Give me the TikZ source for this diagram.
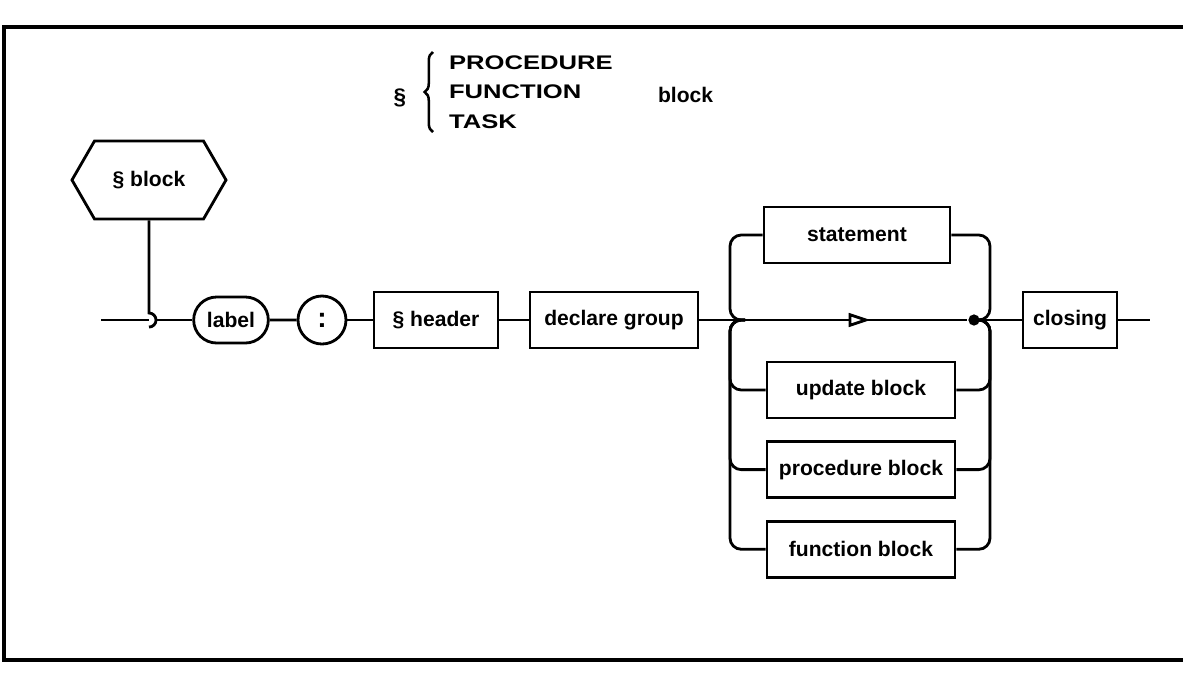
\documentclass[tikz,border=0pt]{standalone}
\usepackage{fontspec}
\setmainfont{Liberation Sans}
\newfontfamily\widefont[FakeStretch=1.3]{Liberation Sans}
\usetikzlibrary{positioning, shapes.misc, shapes.symbols, arrows.meta, decorations.markings, decorations.pathreplacing}
\tikzset{
    every node/.style={font=\fontsize{15}{18}\selectfont\bfseries},
    box/.style={draw, rectangle, minimum height=1.4cm, inner sep=2pt},
    alt/.style={box, minimum width=4.7cm},
    term/.style={draw, rounded rectangle, minimum width=2.1cm, minimum height=1.15cm},
    sym/.style={draw, circle, minimum size=1.2cm, inner sep=0pt},
    start/.style={draw, signal, signal to=west and east, signal pointer angle=120,
        minimum width=3.85cm, minimum height=1.95cm},
    junc/.style={circle, fill, minimum size=8pt, inner sep=0pt},
    rail/.style={rounded corners=8pt},
    flow/.style={decoration={markings, mark=at position 0.64 with
        {\arrow{Triangle[open, fill=white, length=0.55cm, width=0.34cm]}}},
        postaction={decorate}},
}

\begin{document}
\begin{tikzpicture}[x=0.025cm, y=-0.025cm, line width=2pt]
    \useasboundingbox (0,0) rectangle (1183,687);
    \draw[line width=3pt] (1183,27) -- (4,27) -- (4,660) -- (1183,660);

    % heading
    \node (sect) at (400,98) {\fontsize{16}{18}\selectfont\S};
    \node[align=left, anchor=west, font=\widefont\fontsize{14}{21}\selectfont\bfseries]
        (kinds) at (443,92) {PROCEDURE\\FUNCTION\\TASK};
    \node[anchor=west] (blk) at (652,95) {block};
    \draw[decorate, decoration={brace, amplitude=6pt}, line width=1.8pt] (433,132) -- (433,52);

    % syntax nodes
    \node[start] (hex) at (149,180) {\S\ block};
    \node[term] (label) at (231,320) {label};
    \node[sym] (colon) at (322,320) {\fontsize{20}{20}\selectfont:};
    \node[box, minimum width=3.1cm] (header) at (436,320) {\S\ header};
    \node[box, minimum width=4.2cm] (declare) at (614,320) {declare group};
    \node[alt, minimum width=4.65cm] (stmt) at (857,235) {statement};
    \node[alt] (update) at (861,390) {update block};
    \node[alt, below=0.52cm of update] (proc) {procedure block};
    \node[alt, below=0.52cm of proc] (func) {function block};
    \node[box, minimum width=2.35cm] (closing) at (1070,320) {closing};
    \node[junc] (jr) at (974,320) {};

    \coordinate (in) at (101,320);
    \coordinate (hop) at (149,313);
    \coordinate (hopc) at (149,320);
    \coordinate (hopr) at (156,320);
    \coordinate (L) at (730,320);
    \coordinate (jl) at (745,320);
    \coordinate (R) at (990,320);
    \coordinate (out) at (1150,320);

    % main line
    \draw (hex.south) -- (hop) arc[start angle=90, end angle=-90, radius=5pt];
    \draw (in) -- (hopc);
    \path
        (hopr) edge (label)
        (label) edge (colon)
        (colon) edge (header)
        (header) edge (declare)
        (closing) edge (out);
    \draw[flow] (declare) -- (jr);
    \draw (jr) -- (closing);

    % alternatives
    \draw[rail] (jl) -- (L) |- (stmt.west);
    \draw[rail] (jl) -- (L) |- (update.west);
    \draw[rail] (jl) -- (L) |- (proc.west);
    \draw[rail] (jl) -- (L) |- (func.west);
    \draw[rail] (stmt.east) -| (R) -- (jr);
    \draw[rail] (jr) -- (R) |- (update.east);
    \draw[rail] (jr) -- (R) |- (proc.east);
    \draw[rail] (jr) -- (R) |- (func.east);
\end{tikzpicture}
\end{document}
